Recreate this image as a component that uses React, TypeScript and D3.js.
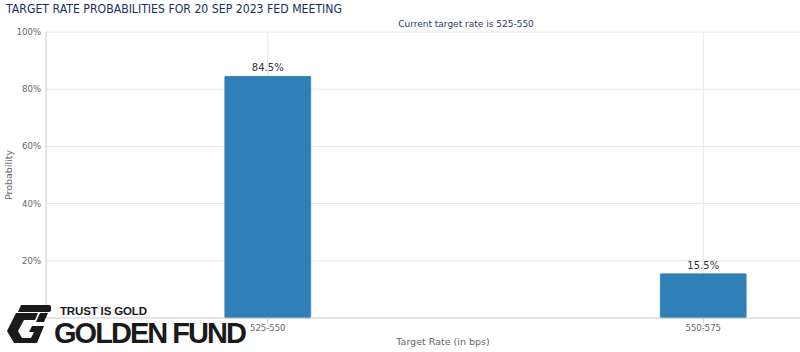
import React from "react";
import * as d3 from "d3";

const categories = ["525-550", "550-575"];
const probabilities = [84.5, 15.5];
const yTicks = [20, 40, 60, 80, 100];

const W = 800;
const H = 352;
const left = 46;
const top = 32;
const bottom = 318;

export default function App() {
  const x = d3.scaleBand<string>().domain(categories).range([50, 921]);
  const y = d3.scaleLinear().domain([0, 100]).range([bottom, top]);
  const barW = 86;
  const font = "'DejaVu Sans', sans-serif";
  return (
    <svg width={W} height={H} style={{ position: "absolute", left: 0, top: 0, background: "#fff" }} fontFamily={font}>
      <text x={6} y={13} fontSize={12} fill="#1d2d5c" textLength={336} lengthAdjust="spacingAndGlyphs">TARGET RATE PROBABILITIES FOR 20 SEP 2023 FED MEETING</text>
      <text x={466} y={27} fontSize={9} fill="#333a6b" textAnchor="middle">Current target rate is 525-550</text>
      {yTicks.map((t) => (
        <g key={t}>
          <line x1={left} x2={W} y1={y(t)} y2={y(t)} stroke="#e6e6e6" />
          <text x={41} y={y(t) + 3} fontSize={8.5} fill="#666" textAnchor="end">{t}%</text>
        </g>
      ))}
      {categories.map((c) => (
        <line key={c} x1={x(c)! + x.bandwidth() / 2} x2={x(c)! + x.bandwidth() / 2} y1={top} y2={bottom} stroke="#e6e6e6" />
      ))}
      <line x1={left} x2={left} y1={top} y2={bottom} stroke="#ccc" />
      <text transform={`translate(12,${(top + bottom) / 2}) rotate(-90)`} fontSize={9.5} fill="#666" textAnchor="middle">Probability</text>
      {categories.map((c, i) => {
        const cx = x(c)! + x.bandwidth() / 2;
        return (
          <g key={c}>
            <rect x={cx - barW / 2} y={y(probabilities[i])} width={barW} height={bottom - y(probabilities[i])} fill="#2f80b8" stroke="#2a6fa0" strokeWidth={0.5} rx={1} />
            <text x={cx} y={y(probabilities[i]) - 5} fontSize={10} fill="#333" textAnchor="middle">{probabilities[i]}%</text>
            <line x1={cx} x2={cx} y1={bottom} y2={bottom + 5} stroke="#ccc" />
            <text x={cx} y={331} fontSize={8.5} fill="#666" textAnchor="middle">{c}</text>
          </g>
        );
      })}
      <line x1={left} x2={W} y1={bottom} y2={bottom} stroke="#ccc" />
      <text x={443} y={345} fontSize={9.5} fill="#666" textAnchor="middle">Target Rate (in bps)</text>
      {/* watermark logo */}
      <g fill="#1a1a1a">
        <path d="M21,305 L49,305 Q51,305 51,307 L51,310 Q51,312 49,312 L18,312 Z" />
        <path d="M16,313 L38,313 L35,320 L24,320 L18,331 L22,338 L31,338 L34,332 L29,332 L32,326 L44,326 L37,343 L14,343 L7,331 Z" />
        <path d="M40,313 L48,313 L44,322 L36,322 Z" />
        <text x={60} y={315} fontSize={11.5} fontWeight="bold" fontFamily="'Liberation Sans', Arial, sans-serif" textLength={87}>TRUST IS GOLD</text>
        <text x={54} y={343} fontSize={29} fontWeight="bold" fontFamily="'Liberation Sans', Arial, sans-serif" textLength={193}>GOLDEN FUND</text>
      </g>
    </svg>
  );
}
